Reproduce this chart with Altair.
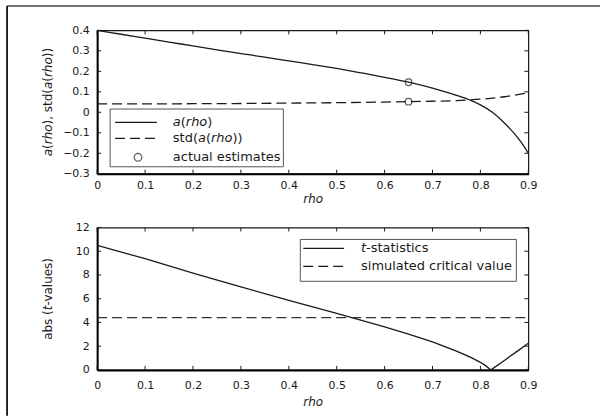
import altair as alt
import pandas as pd

# ---------------- data ----------------
rho_a = [0, 0.05, 0.1, 0.15, 0.2, 0.25, 0.3, 0.35, 0.4, 0.45, 0.5, 0.55, 0.6,
         0.65, 0.7, 0.75, 0.78, 0.8, 0.825, 0.85, 0.87, 0.885, 0.9]
a_vals = [0.400, 0.381, 0.362, 0.343, 0.324, 0.305, 0.287, 0.269, 0.251, 0.233,
          0.214, 0.193, 0.171, 0.147, 0.118, 0.083, 0.058, 0.036, 0.000, -0.052,
          -0.102, -0.146, -0.200]

rho_s = [0, 0.1, 0.2, 0.3, 0.4, 0.5, 0.6, 0.65, 0.7, 0.75, 0.8, 0.85, 0.9]
std_vals = [0.041, 0.041, 0.042, 0.043, 0.045, 0.047, 0.050, 0.052, 0.054,
            0.057, 0.064, 0.076, 0.095]

est_rho = [0.65, 0.65]
est_vals = [0.147, 0.052]

rho_t = [0, 0.1, 0.2, 0.3, 0.4, 0.5, 0.6, 0.65, 0.7, 0.75, 0.78, 0.8, 0.81, 0.822,
         0.85, 0.875, 0.9]
t_vals = [10.5, 9.37, 8.15, 7.0, 5.85, 4.76, 3.63, 3.02, 2.36, 1.58, 1.05, 0.64, 0.38, 0.0,
          0.8, 1.52, 2.24]

crit_rho = [0, 0.9]
crit_vals = [4.4, 4.4]

x_ticks = [0, 0.1, 0.2, 0.3, 0.4, 0.5, 0.6, 0.7, 0.8, 0.9]
y1_ticks = [-0.3, -0.2, -0.1, 0, 0.1, 0.2, 0.3, 0.4]
y2_ticks = [0, 2, 4, 6, 8, 10, 12]

# ---------------- style ----------------
W, H1, H2 = 433, 144, 143
FONT = "DejaVu Sans"
INK = "#1a1a1a"
DASH = [10, 5]


def one():
    return pd.DataFrame({"d": [0]})


def txt(s, x, y, italic=False, size=13, angle=0):
    return alt.Chart(one()).mark_text(
        text=s, font=FONT, fontSize=size, fontStyle="italic" if italic else "normal",
        align="left", baseline="middle", angle=angle, color=INK
    ).encode(x=alt.value(x), y=alt.value(y))


def hline(x1, x2, y, color=INK, width=1.3, dash=None):
    kw = dict(color=color, strokeWidth=width)
    if dash:
        kw["strokeDash"] = dash
    return alt.Chart(one()).mark_rule(**kw).encode(
        x=alt.value(x1), x2=alt.value(x2), y=alt.value(y))


def vline(x, y1, y2, color=INK, width=1.3):
    return alt.Chart(one()).mark_rule(color=color, strokeWidth=width).encode(
        x=alt.value(x), y=alt.value(y1), y2=alt.value(y2))


def box(x1, x2, y1, y2):
    return alt.Chart(one()).mark_rect(fill="white", stroke="#555", strokeWidth=1).encode(
        x=alt.value(x1), x2=alt.value(x2), y=alt.value(y1), y2=alt.value(y2))


xscale = alt.Scale(domain=[0, 0.9], nice=False, zero=False)
y1scale = alt.Scale(domain=[-0.3, 0.4], nice=False, zero=False)
y2scale = alt.Scale(domain=[0, 12], nice=False, zero=False)

LBL = dict(labelOverlap=False, labelFlush=False, labelBound=False)


def xaxis(label_pad, title_y):
    return alt.Axis(values=x_ticks, format="~g", title="rho", titleFontStyle="italic",
                    titleFontWeight="normal", titleFontSize=12, titleFont=FONT,
                    titleY=title_y, titleBaseline="middle", titleColor=INK,
                    labelPadding=label_pad, **LBL)


def yaxis(vals):
    return alt.Axis(values=vals, format="~g", title=None, labelPadding=8, **LBL)


def X(field, ax):
    return alt.X(field, scale=xscale, axis=ax, title="rho")


def Y(field, sc, ax):
    return alt.Y(field, scale=sc, axis=ax, title=None)


def inward_ticks(xs, ys, xax, yscale, yax, h):
    tx = pd.DataFrame({"v": xs})
    ty = pd.DataFrame({"v": ys})
    r = dict(color=INK, strokeWidth=1)
    top = alt.Chart(tx).mark_rule(**r).encode(
        x=X("v:Q", xax), y=alt.value(0), y2=alt.value(4))
    bot = alt.Chart(tx).mark_rule(**r).encode(
        x=X("v:Q", xax), y=alt.value(h - 4), y2=alt.value(h))
    lef = alt.Chart(ty).mark_rule(**r).encode(
        y=Y("v:Q", yscale, yax), x=alt.value(0), x2=alt.value(4))
    rig = alt.Chart(ty).mark_rule(**r).encode(
        y=Y("v:Q", yscale, yax), x=alt.value(W - 4), x2=alt.value(W))
    return [top, bot, lef, rig]


# ---------------- top panel ----------------
xa1 = xaxis(6, 25)
ya1 = yaxis(y1_ticks)
df_a = pd.DataFrame({"rho": rho_a, "v": a_vals})
df_s = pd.DataFrame({"rho": rho_s, "v": std_vals})
df_e = pd.DataFrame({"rho": est_rho, "v": est_vals})

a_line = alt.Chart(df_a).mark_line(color=INK, strokeWidth=1.3, interpolate="monotone").encode(
    x=X("rho:Q", xa1), y=Y("v:Q", y1scale, ya1))
s_line = alt.Chart(df_s).mark_line(color=INK, strokeWidth=1.3, strokeDash=DASH,
                                   interpolate="monotone").encode(
    x=X("rho:Q", xa1), y=Y("v:Q", y1scale, ya1))
e_pts = alt.Chart(df_e).mark_point(shape="circle", size=45, color=INK, strokeWidth=1.2,
                                   filled=False).encode(
    x=X("rho:Q", xa1), y=Y("v:Q", y1scale, ya1))

# legend (top) -- pixel positions relative to plot origin
L1x, L1y = 76, [92.5, 108.5, 127.5]
leg1 = [
    box(13, 187, 79, 137),
    hline(18, 60, L1y[0]),
    hline(18, 60, L1y[1], dash=DASH),
    alt.Chart(one()).mark_point(shape="circle", size=60, color=INK, strokeWidth=1.2,
                                filled=False).encode(x=alt.value(41), y=alt.value(L1y[2])),
    txt("a", L1x, L1y[0], True), txt("(", L1x + 7.97, L1y[0]),
    txt("rho", L1x + 13.04, L1y[0], True), txt(")", L1x + 34.58, L1y[0]),
    txt("std(", L1x, L1y[1]), txt("a", L1x + 25.2, L1y[1], True),
    txt("(", L1x + 33.17, L1y[1]), txt("rho", L1x + 38.24, L1y[1], True),
    txt("))", L1x + 59.78, L1y[1]),
    txt("actual estimates", L1x, L1y[2]),
]

# y title (rotated, mixed italic)
yb = 126.4
TX = -49
ytitle1 = [
    txt("a", TX, yb, True, 12, 270),
    txt("(", TX, yb - 7.36, False, 12, 270),
    txt("rho", TX, yb - 12.04, True, 12, 270),
    txt("), std(", TX, yb - 31.92, False, 12, 270),
    txt("a", TX, yb - 67.49, True, 12, 270),
    txt("(", TX, yb - 74.85, False, 12, 270),
    txt("rho", TX, yb - 79.53, True, 12, 270),
    txt("))", TX, yb - 99.41, False, 12, 270),
]

# outer frame lines (top & left)
frame = [
    hline(-90.5, 505, -24.5, color="#444", width=1.5),
    vline(-90.5, -24.5, 387, color="#111", width=1.8),
]

top = alt.layer(
    a_line, s_line, e_pts,
    *inward_ticks(x_ticks, y1_ticks, xa1, y1scale, ya1, H1),
    *leg1, *ytitle1, *frame
).properties(width=W, height=H1)

# ---------------- bottom panel ----------------
xa2 = xaxis(10, 32)
ya2 = yaxis(y2_ticks)
df_t = pd.DataFrame({"rho": rho_t, "v": t_vals})
df_c = pd.DataFrame({"rho": crit_rho, "v": crit_vals})

t_line = alt.Chart(df_t).mark_line(color=INK, strokeWidth=1.3).encode(
    x=X("rho:Q", xa2), y=Y("v:Q", y2scale, ya2))
c_line = alt.Chart(df_c).mark_line(color="#333", strokeWidth=1.3, strokeDash=DASH).encode(
    x=X("rho:Q", xa2), y=Y("v:Q", y2scale, ya2))

L2x, L2y = 265, [21, 39]
leg2 = [
    box(204, 421, 12, 54),
    hline(207, 248, L2y[0]),
    hline(207, 248, L2y[1], dash=DASH),
    txt("t", L2x, L2y[0], True), txt("-statistics", L2x + 5.1, L2y[0]),
    txt("simulated critical value", L2x, L2y[1]),
]

yb2 = 112.75
ytitle2 = [
    txt("abs (", TX, yb2, False, 12, 270),
    txt("t", TX, yb2 - 29.72, True, 12, 270),
    txt("-values)", TX, yb2 - 34.42, False, 12, 270),
]

bottom = alt.layer(
    t_line, c_line,
    *inward_ticks(x_ticks, y2_ticks, xa2, y2scale, ya2, H2),
    *leg2, *ytitle2
).properties(width=W, height=H2)

chart = alt.vconcat(top, bottom, spacing=54, bounds="flush").properties(
    padding={"left": 5.6, "top": 3.6, "right": 0, "bottom": 0},
    autosize=alt.AutoSizeParams(type="pad"),
).configure_view(
    stroke=INK, strokeWidth=1.2
).configure_axis(
    ticks=False, tickSize=0, grid=False, domainColor="#000", domainWidth=2,
    labelFont=FONT, labelFontSize=11, labelColor=INK, titleFont=FONT
)

chart.save("out.html", embed_options={"renderer": "svg", "actions": False})
